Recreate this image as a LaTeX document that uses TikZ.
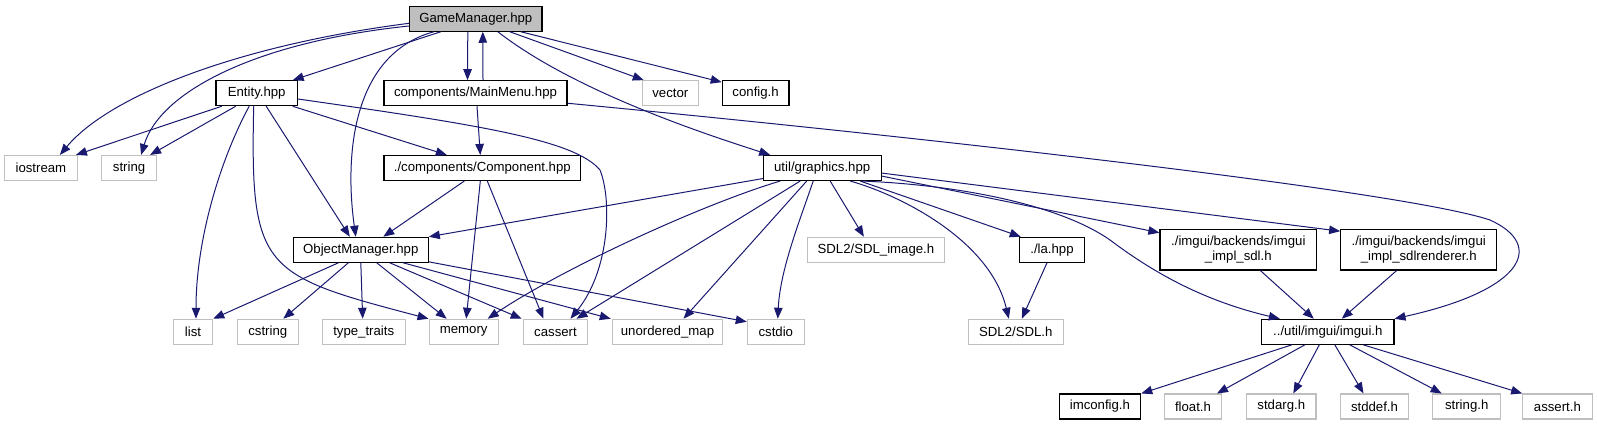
\documentclass[tikz,border=0pt]{standalone}
\usepackage{fontspec}
\setmainfont{Liberation Sans}
\usetikzlibrary{arrows.meta}
\definecolor{edgeblue}{HTML}{191970}
\definecolor{boxgray}{HTML}{BFBFBF}

\begin{document}
\begin{tikzpicture}[x=1pt, y=-1pt,
  every node/.style={font=\fontsize{13.2}{14.5}\selectfont, inner sep=0pt, minimum height=25pt, align=center},
  root/.style={draw=black, fill=boxgray, line width=1.1pt},
  hdr/.style={draw=black, fill=white, line width=1.1pt},
  sys/.style={draw=boxgray, fill=white, line width=1.1pt},
  inc/.style={draw=edgeblue, line width=1pt, -{Triangle[length=11pt,width=8.5pt]}}
]
\useasboundingbox (0,0) rectangle (1597,425);

% Top file
\node[root, minimum width=132.4pt] (gm) at (475.8,18.7) {GameManager.hpp};

% First level
\node[hdr, minimum width=81.5pt] (entity) at (256.7,93.2) {Entity.hpp};
\node[hdr, minimum width=183pt] (mainmenu) at (475.5,93.2) {components/MainMenu.hpp};
\node[sys, minimum width=56pt] (vector) at (670.3,93.2) {vector};
\node[hdr, minimum width=66.7pt] (config) at (755.6,93.2) {config.h};

% Second level
\node[sys, minimum width=73pt] (iostream) at (40.9,168) {iostream};
\node[sys, minimum width=54.6pt] (string) at (129.1,168) {string};
\node[hdr, minimum width=196.6pt] (component) at (482.3,168) {./components/Component.hpp};
\node[hdr, minimum width=117.7pt] (graphics) at (822.2,168) {util/graphics.hpp};

% Third level
\node[hdr, minimum width=135pt] (objmgr) at (360.8,249.8) {ObjectManager.hpp};
\node[sys, minimum width=136.3pt] (sdlimage) at (875.9,249.8) {SDL2/SDL\_image.h};
\node[hdr, minimum width=65.4pt] (la) at (1052,249.8) {./la.hpp};
\node[hdr, minimum width=156.7pt, minimum height=40.7pt] (implsdl) at (1238.3,249.6) {./imgui/backends/imgui\\\_impl\_sdl.h};
\node[hdr, minimum width=156pt, minimum height=40.7pt] (implren) at (1418.7,249.6) {./imgui/backends/imgui\\\_impl\_sdlrenderer.h};

% Fourth level
\foreach \n/\x/\w/\t in {list/193/39.4/list, cstring/267.8/61/cstring,
  typetraits/363.7/82.7/type\_traits, memory/463.7/69.3/memory,
  cassert/555.5/64.4/cassert, umap/667.5/110.4/unordered\_map,
  cstdio/775.8/57/cstdio}
  \node[sys, minimum width=\w pt] (\n) at (\x,331.8) {\t};
\node[sys, minimum width=95pt] (sdl) at (1015.8,331.8) {SDL2/SDL.h};
\node[hdr, minimum width=132.3pt] (imgui) at (1327.8,331.8) {../util/imgui/imgui.h};

% Bottom level
\node[hdr, minimum width=81.7pt] (imconfig) at (1099.9,406.5) {imconfig.h};
\foreach \n/\x/\w/\t in {floath/1193/57.4/float.h, stdarg/1281.3/69.3/stdarg.h,
  stddef/1374.5/67.6/stddef.h, stringh/1466.7/68/string.h,
  asserth/1557.4/69.3/assert.h}
  \node[sys, minimum width=\w pt] (\n) at (\x,406.5) {\t};

% from GameManager.hpp
\draw[inc] ([yshift=-4.6pt]gm.west) .. controls (240,45) and (110,95) .. ([xshift=19pt]iostream.north);
\draw[inc] ([yshift=-7.3pt]gm.west) .. controls (255,42) and (160,92) .. ([xshift=12pt]string.north);
\draw[inc] ([xshift=-35pt]gm.south) -- ([xshift=36pt]entity.north);
\draw[inc] ([xshift=-42pt]gm.south) .. controls (350,55) and (345,160) .. ([xshift=-5pt]objmgr.north);
\draw[inc] ([xshift=-8pt]gm.south) -- ([xshift=-8pt]mainmenu.north);
\draw[inc] ([xshift=7.5pt]mainmenu.north) -- ([xshift=7pt]gm.south);
\draw[inc] ([xshift=34pt]gm.south) -- ([xshift=2pt]vector.north west);
\draw[inc] ([xshift=45pt]gm.south) -- ([yshift=-2pt]config.north west);
\draw[inc] ([xshift=22pt]gm.south) .. controls (560,80) and (660,120) .. ([xshift=-52pt]graphics.north);

% from Entity.hpp
\draw[inc] ([xshift=-35pt]entity.south) -- ([xshift=35pt]iostream.north);
\draw[inc] ([xshift=-21pt]entity.south) -- ([xshift=21pt]string.north);
\draw[inc] ([xshift=-7.5pt]entity.south) .. controls (220,160) and (196,240) .. ([xshift=3pt]list.north);
\draw[inc] ([xshift=-3pt]entity.south) .. controls (250,270) and (262,275) .. (memory.north west);
\draw[inc] ([xshift=9.5pt]entity.south) -- ([xshift=-11pt]objmgr.north);
\draw[inc] ([xshift=36pt]entity.south) -- ([xshift=-35.5pt]component.north);
\draw[inc] ([yshift=-5.8pt]entity.east) .. controls (480,125) and (575,140) .. (600,170)
  .. controls (612,200) and (610,270) .. ([xshift=15pt]cassert.north);

% from MainMenu.hpp
\draw[inc] ([xshift=1.5pt]mainmenu.south) -- ([xshift=-2pt]component.north);
\draw[inc] ([yshift=3pt]mainmenu.south east) .. controls (900,135) and (1400,190) .. (1490,220)
  .. controls (1545,245) and (1525,290) .. (imgui.north east);

% from Component.hpp
\draw[inc] ([xshift=-18pt]component.south) -- ([xshift=22.5pt]objmgr.north);
\draw[inc] ([xshift=-2pt]component.south) -- ([xshift=2.5pt]memory.north);
\draw[inc] ([xshift=5pt]component.south) -- ([xshift=-12pt]cassert.north);

% from graphics.hpp
\draw[inc] ([yshift=2.5pt]graphics.south west) -- (objmgr.north east);
\draw[inc] ([xshift=-42pt]graphics.south) .. controls (700,205) and (560,270) .. ([xshift=24pt]memory.north);
\draw[inc] ([xshift=-22pt]graphics.south) -- ([xshift=21pt]cassert.north);
\draw[inc] ([xshift=-15.5pt]graphics.south) -- ([xshift=16pt]umap.north);
\draw[inc] ([xshift=-9pt]graphics.south) .. controls (800,220) and (780,270) .. ([xshift=2pt]cstdio.north);
\draw[inc] ([xshift=8pt]graphics.south) -- ([xshift=-12pt]sdlimage.north);
\draw[inc] ([xshift=28pt]graphics.south) .. controls (900,195) and (990,240) .. ([xshift=-7pt]sdl.north);
\draw[inc] ([xshift=38pt]graphics.south) -- ([xshift=2pt]la.north west);
\draw[inc] ([xshift=40pt]graphics.south) .. controls (960,185) and (1060,205) .. (1110,240)
  .. controls (1150,270) and (1200,300) .. ([xshift=-48pt]imgui.north);
\draw[inc] ([yshift=5pt]graphics.south east) -- ([yshift=-4pt]implsdl.north west);
\draw[inc] ([yshift=8pt]graphics.south east) -- ([yshift=-2.5pt]implren.north west);

% from la.hpp and the backends
\draw[inc] ([xshift=-5pt]la.south) -- ([xshift=6pt]sdl.north);
\draw[inc] ([xshift=22pt]implsdl.south) -- ([xshift=-14pt]imgui.north);
\draw[inc] ([xshift=-22pt]implren.south) -- ([xshift=14pt]imgui.north);

% from ObjectManager.hpp
\draw[inc] ([xshift=-22.5pt]objmgr.south) -- (list.north east);
\draw[inc] ([xshift=-12.5pt]objmgr.south) -- ([xshift=15.5pt]cstring.north);
\draw[inc] (objmgr.south) -- ([xshift=-1pt]typetraits.north);
\draw[inc] ([xshift=16pt]objmgr.south) -- ([xshift=-17pt]memory.north);
\draw[inc] ([xshift=29pt]objmgr.south) -- ([xshift=-1pt]cassert.north west);
\draw[inc] ([xshift=42.5pt]objmgr.south) -- ([xshift=-1pt]umap.north west);
\draw[inc] ([yshift=1pt]objmgr.south east) -- ([yshift=-3pt]cstdio.north west);

% from imgui.h
\draw[inc] ([xshift=-36pt]imgui.south) -- (imconfig.north east);
\draw[inc] ([xshift=-23pt]imgui.south) -- ([xshift=24pt]floath.north);
\draw[inc] ([xshift=-8.5pt]imgui.south) -- ([xshift=12pt]stdarg.north);
\draw[inc] ([xshift=7pt]imgui.south) -- ([xshift=-11pt]stddef.north);
\draw[inc] ([xshift=22pt]imgui.south) -- ([xshift=-25pt]stringh.north);
\draw[inc] ([xshift=35.5pt]imgui.south) -- (asserth.north west);

\end{tikzpicture}
\end{document}
